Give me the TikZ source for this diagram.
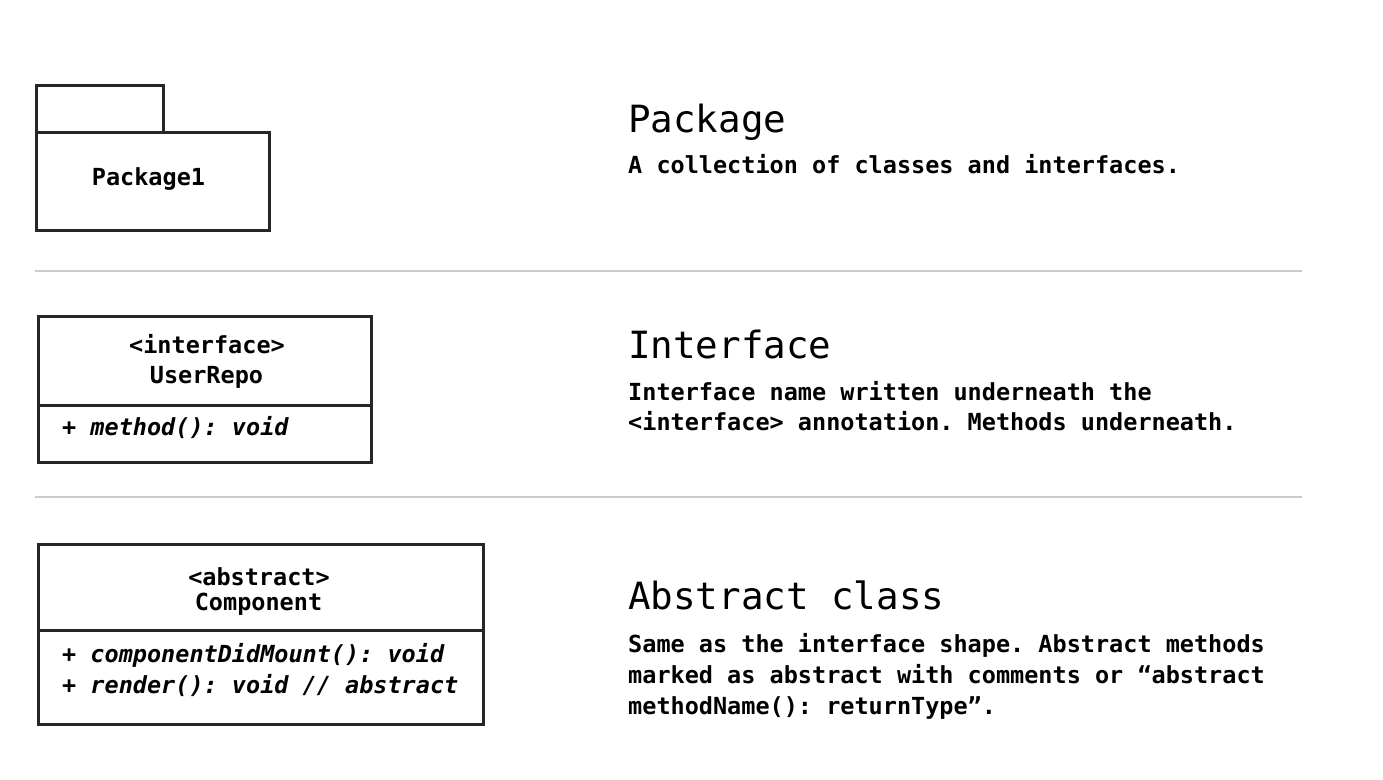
\documentclass[tikz,border=0pt]{standalone}
\usepackage{fontspec}
\setmonofont{DejaVu Sans Mono}
\begin{document}
\begin{tikzpicture}[x=1pt,y=-1pt,
  umlbox/.style={draw=black!85, line width=2.5pt, inner sep=0pt, anchor=north west},
  sep/.style={draw=black!20, line width=2pt},
  body/.style={inner sep=0pt, font=\ttfamily\bfseries\fontsize{23.5}{31}\selectfont},
  meth/.style={body, font=\ttfamily\bfseries\itshape\fontsize{23.5}{31}\selectfont},
  head/.style={inner sep=0pt, anchor=base west, font=\ttfamily\fontsize{37.5}{45}\selectfont}]
\useasboundingbox[fill=white] (0,0) rectangle (1383,779);
% separators
\coordinate (s1a) at (35,271); \coordinate (s1b) at (1302,271);
\coordinate (s2a) at (35,497); \coordinate (s2b) at (1302,497);
\draw[sep] (s1a) -- (s1b);
\draw[sep] (s2a) -- (s2b);
% package
\node[umlbox, minimum width=127pt, minimum height=47pt] (ptab) at (35,84) {};
\node[umlbox, minimum width=233pt, minimum height=98pt] (pmain) at (35,131) {};
\node[body, anchor=base] (plabel) at (148.5,185) {Package1};
% interface
\node[umlbox, minimum width=333pt, minimum height=89pt] (itop) at (37,315) {};
\node[umlbox, minimum width=333pt, minimum height=57pt] (ibot) at (37,404) {};
\node[body, anchor=base] (istereo) at (207,353) {<interface>};
\node[body, anchor=base] (iname) at (206.5,383) {UserRepo};
\node[meth, anchor=base west] (imeth) at (62,435) {+ method(): void};
% abstract
\node[umlbox, minimum width=445pt, minimum height=86pt] (atop) at (37,543) {};
\node[umlbox, minimum width=445pt, minimum height=94pt] (abot) at (37,629) {};
\node[body, anchor=base] (astereo) at (259,585) {<abstract>};
\node[body, anchor=base] (aname) at (258.5,610) {Component};
\node[meth, anchor=base west] (ameth1) at (62,662) {+ componentDidMount(): void};
\node[meth, anchor=base west] (ameth2) at (62,693) {+ render(): void // abstract};
% descriptions
\node[head] (h1) at (628,132) {Package};
\node[body, anchor=base west] (d1) at (628,173) {A collection of classes and interfaces.};
\node[head] (h2) at (628,358) {Interface};
\node[body, anchor=base west] (d2a) at (628,400) {Interface name written underneath the};
\node[body, anchor=base west] (d2b) at (628,430) {<interface> annotation. Methods underneath.};
\node[head] (h3) at (628,609) {Abstract class};
\node[body, anchor=base west] (d3a) at (628,652) {Same as the interface shape. Abstract methods};
\node[body, anchor=base west] (d3b) at (628,683) {marked as abstract with comments or “abstract};
\node[body, anchor=base west] (d3c) at (628,714) {methodName(): returnType”.};
\end{tikzpicture}
\end{document}
